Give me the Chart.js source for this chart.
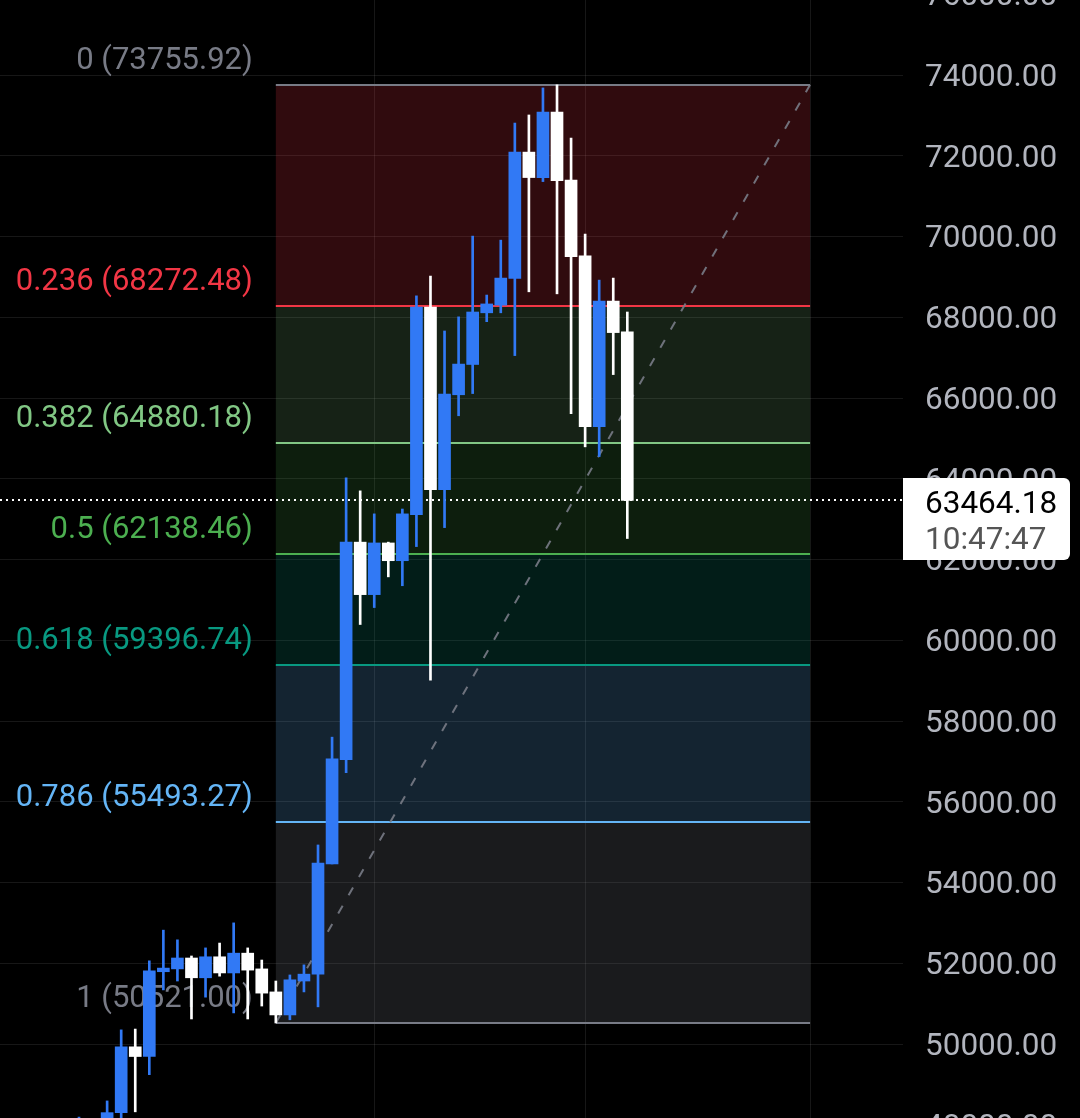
<!DOCTYPE html>
<html>
<head>
<meta charset="utf-8">
<script src="https://cdn.jsdelivr.net/npm/chart.js@4.4.1/dist/chart.umd.min.js"></script>
<style>
  html, body { margin: 0; padding: 0; background: #000; width: 1080px; height: 1118px; overflow: hidden; }
  #wrap { position: absolute; left: 0; top: -40px; width: 1080px; height: 1198px; }
</style>
</head>
<body>
<div id="wrap"><canvas id="chart" width="1080" height="1198"></canvas></div>
<script>
// daily candles, BTC, Feb 9 -> Mar 19 2024
const days = ['Feb 9','Feb 10','Feb 11','Feb 12','Feb 13','Feb 14','Feb 15','Feb 16','Feb 17','Feb 18',
  'Feb 19','Feb 20','Feb 21','Feb 22','Feb 23','Feb 24','Feb 25','Feb 26','Feb 27','Feb 28',
  'Feb 29','Mar 1','Mar 2','Mar 3','Mar 4','Mar 5','Mar 6','Mar 7','Mar 8','Mar 9',
  'Mar 10','Mar 11','Mar 12','Mar 13','Mar 14','Mar 15','Mar 16','Mar 17','Mar 18','Mar 19'];
const opens  = [45300, 47130, 47750, 48300, 49930, 49690, 51790, 51860, 52130, 51640,
  52160, 51760, 52250, 51860, 51290, 50720, 51560, 51730, 54460, 57040,
  62430, 61130, 62410, 61970, 63110, 68250, 63730, 66080, 66830, 68110,
  68300, 68960, 72090, 71460, 73080, 71400, 69520, 65290, 68400, 67640];
const highs  = [48190, 48100, 48590, 50350, 50370, 52060, 52820, 52580, 52180, 52380,
  52500, 53000, 52380, 52080, 51560, 51710, 51960, 54930, 57600, 64020,
  63700, 63130, 62430, 63250, 68530, 69020, 67660, 68010, 70010, 68550,
  69910, 72810, 73010, 73680, 73755.92, 72440, 70060, 68920, 68970, 68130];
const lows   = [45250, 46900, 47550, 47700, 48320, 49240, 51340, 51560, 50620, 51160,
  51680, 50770, 50620, 50940, 50521, 50600, 51290, 50920, 54460, 56720,
  60390, 60810, 61570, 61350, 62320, 59010, 62790, 65560, 66110, 67890,
  68110, 67050, 68630, 71360, 68580, 65610, 64790, 64550, 66580, 62520];
const closes = [47130, 47750, 48300, 49930, 49690, 51810, 51880, 52130, 51640, 52160,
  51760, 52250, 51830, 51260, 50720, 51590, 51730, 54480, 57060, 62430,
  61130, 62410, 61970, 63130, 68250, 63730, 66100, 66840, 68130, 68330,
  68970, 72090, 71460, 73080, 71380, 69500, 65290, 68400, 67620, 63464.18];

const priceTicks = [48000, 50000, 52000, 54000, 56000, 58000, 60000, 62000,
  64000, 66000, 68000, 70000, 72000, 74000, 76000];
const lastPrice = 63464.18;
const lastTime = '10:47:47';
const timeGrid = [21, 36, 52];   // Mar 1, Mar 16, Apr 1

const fibLevels = [0, 0.236, 0.382, 0.5, 0.618, 0.786, 1];
const fibColors = ['#787b86', '#f23645', '#81c784', '#4caf50', '#089981', '#64b5f6', '#787b86'];
const fibFills  = ['', 'rgba(242,54,69,0.2)', 'rgba(129,199,132,0.17)', 'rgba(76,175,80,0.17)',
  'rgba(8,153,129,0.19)', 'rgba(100,181,246,0.2)', 'rgba(120,123,134,0.22)'];
const fibHigh = 73755.92, fibLow = 50521.00;
const fibFrom = 14, fibTo = 52;

const upCol = '#3179f5', downCol = '#ffffff';
const candleCols = closes.map((c, i) => c >= opens[i] ? upCol : downCol);
const gridCol = 'rgba(255,255,255,0.09)';
const FONT = 'Roboto, "Noto Sans", sans-serif';

const noPad = s => { s.paddingTop = 0; s.paddingBottom = 0; s.paddingLeft = 0; s.paddingRight = 0; };

const fibPlugin = {
  id: 'fib',
  beforeDatasetsDraw(chart) {
    const {ctx, chartArea, scales: {x, y}} = chart;
    const x0 = x.getPixelForValue(fibFrom), x1 = x.getPixelForValue(fibTo);
    const vals = fibLevels.map(l => fibHigh - l * (fibHigh - fibLow));
    ctx.save();
    for (let k = 1; k < vals.length; k++) {
      const ya = y.getPixelForValue(vals[k - 1]), yb = y.getPixelForValue(vals[k]);
      ctx.fillStyle = fibFills[k];
      ctx.fillRect(x0, ya, x1 - x0, yb - ya);
    }
    ctx.lineWidth = 2;
    ctx.font = '31px ' + FONT;
    ctx.textAlign = 'right';
    ctx.textBaseline = 'middle';
    vals.forEach((v, k) => {
      const py = Math.round(y.getPixelForValue(v));
      ctx.strokeStyle = fibColors[k];
      ctx.beginPath();
      ctx.moveTo(x0, py);
      ctx.lineTo(x1, py);
      ctx.stroke();
      ctx.fillStyle = fibColors[k];
      ctx.fillText(fibLevels[k] + ' (' + v.toFixed(2) + ')', x0 - 23, py - 24);
    });
    // trend line between the two anchors
    ctx.strokeStyle = 'rgba(120,123,134,0.9)';
    ctx.setLineDash([9, 12]);
    ctx.beginPath();
    ctx.moveTo(x0, y.getPixelForValue(fibLow));
    ctx.lineTo(x1, y.getPixelForValue(fibHigh));
    ctx.stroke();
    // last price line
    const pp = Math.round(y.getPixelForValue(lastPrice));
    ctx.strokeStyle = '#ffffff';
    ctx.setLineDash([2, 4]);
    ctx.beginPath();
    ctx.moveTo(chartArea.left, pp);
    ctx.lineTo(chartArea.right, pp);
    ctx.stroke();
    ctx.restore();
  }
};

const priceTag = {
  id: 'priceTag',
  afterDraw(chart) {
    const {ctx, chartArea, scales: {y}} = chart;
    const pp = Math.round(y.getPixelForValue(lastPrice));
    const left = chartArea.right, right = 1070, top = pp - 22, bottom = pp + 60, r = 6;
    ctx.save();
    ctx.fillStyle = '#ffffff';
    ctx.beginPath();
    ctx.moveTo(left, top);
    ctx.lineTo(right - r, top);
    ctx.arcTo(right, top, right, top + r, r);
    ctx.lineTo(right, bottom - r);
    ctx.arcTo(right, bottom, right - r, bottom, r);
    ctx.lineTo(left, bottom);
    ctx.closePath();
    ctx.fill();
    ctx.font = '31.5px ' + FONT;
    ctx.textAlign = 'left';
    ctx.textBaseline = 'middle';
    ctx.fillStyle = '#000000';
    ctx.fillText(lastPrice.toFixed(2), left + 22, pp + 5);
    ctx.fillStyle = '#555555';
    ctx.fillText(lastTime, left + 22, pp + 41);
    ctx.restore();
  }
};

new Chart(document.getElementById('chart'), {
  type: 'bar',
  data: {
    datasets: [{
      label: 'body',
      data: days.map((d, i) => ({x: i, y: [opens[i], closes[i]]})),
      backgroundColor: candleCols,
      barThickness: 12,
      minBarLength: 2,
      grouped: false
    }, {
      label: 'wick',
      data: days.map((d, i) => ({x: i, y: [lows[i], highs[i]]})),
      backgroundColor: candleCols,
      barThickness: 2,
      grouped: false
    }]
  },
  options: {
    responsive: false,
    animation: false,
    events: [],
    layout: {padding: 0},
    plugins: {legend: {display: false}, tooltip: {enabled: false}},
    scales: {
      x: {
        type: 'linear',
        min: -5.62,
        max: 58.61,
        offset: false,
        grid: {color: gridCol, offset: false, drawTicks: false},
        border: {display: false},
        ticks: {display: false},
        afterBuildTicks: s => { s.ticks = timeGrid.map(v => ({value: v})); },
        afterFit: s => { s.height = 0; noPad(s); }
      },
      y: {
        position: 'right',
        min: 47176.5,
        max: 76848.3,
        grid: {color: gridCol, drawTicks: false},
        border: {display: false},
        ticks: {
          autoSkip: false,
          padding: 22,
          labelOffset: 3,
          color: '#b2b5be',
          font: {family: FONT, size: 31.5},
          callback: v => v.toFixed(2)
        },
        afterBuildTicks: s => { s.ticks = priceTicks.map(v => ({value: v})); },
        afterFit: s => { s.width = 177; noPad(s); }
      }
    }
  },
  plugins: [fibPlugin, priceTag]
});
</script>
</body>
</html>
